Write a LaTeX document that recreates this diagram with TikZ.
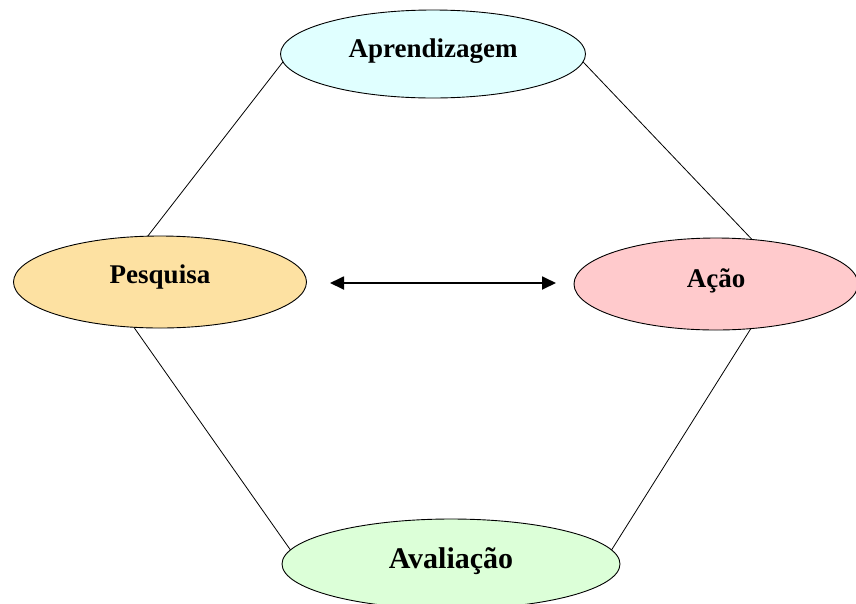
\documentclass[tikz,border=0pt]{standalone}
\usepackage{fontspec}
\setmainfont{Liberation Serif}
\usetikzlibrary{shapes.geometric,arrows.meta}
\definecolor{cyanfill}{HTML}{E0FFFF}
\definecolor{orangefill}{HTML}{FDE1A2}
\definecolor{pinkfill}{HTML}{FFCACC}
\definecolor{greenfill}{HTML}{DCFFD8}
\newcommand{\uptext}[2]{\raisebox{#1}[\height][\depth]{#2}}
\tikzset{
  oval/.style={ellipse,draw=black,line width=0.9pt,inner sep=0pt,outer sep=0pt,font=\fontsize{27}{30}\selectfont\bfseries},
  link/.style={draw=black,line width=0.8pt},
  dbl/.style={draw=black,line width=1.8pt,{Triangle[length=14pt,width=13pt]}-{Triangle[length=14pt,width=13pt]}}
}
\begin{document}
\begin{tikzpicture}[x=1pt,y=-1pt]
\useasboundingbox (0,0) rectangle (856,603);
\clip (0,0) rectangle (856,603);
\node[oval,fill=cyanfill,minimum width=305pt,minimum height=88pt] (apr) at (433,54) {\uptext{3pt}{Aprendizagem}};
\node[oval,fill=orangefill,minimum width=293pt,minimum height=92pt] (pes) at (160,282) {\uptext{5pt}{Pesquisa}};
\node[oval,fill=pinkfill,minimum width=284pt,minimum height=92pt] (aca) at (716,284) {\uptext{3pt}{Ação}};
\node[oval,fill=greenfill,minimum width=338pt,minimum height=90pt,font=\fontsize{30}{34}\selectfont\bfseries] (ava) at (451,564) {\uptext{3pt}{Avaliação}};
\draw[link] (apr.183) -- (pes.105);
\draw[link] (apr.357) -- (aca.51);
\draw[link] (pes.240) -- (ava.175);
\draw[link] (aca.308) -- (ava.5);
\draw[dbl,shorten <=23.5pt,shorten >=18pt] ([yshift=-1pt]pes.east) -- ([yshift=-1pt]pes.east -| aca.west);
\end{tikzpicture}
\end{document}
